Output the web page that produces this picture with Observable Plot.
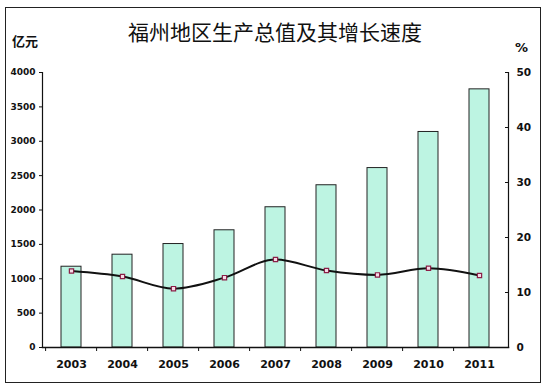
<!DOCTYPE html>
<html><head><meta charset="utf-8">
<script src="https://cdn.jsdelivr.net/npm/d3@7"></script>
<script src="https://cdn.jsdelivr.net/npm/@observablehq/plot@0.6"></script>
<style>
body{margin:0;background:#fff;}
#wrap{position:relative;width:550px;height:392px;overflow:hidden;background:#fff;}
#border{position:absolute;left:5px;top:7px;width:534px;height:374px;border:1.5px solid #222;}
#title{position:absolute;left:0;width:550px;top:16px;text-align:center;font-family:"Noto Sans CJK SC";font-size:21px;color:#111;letter-spacing:0px;}
#ulabel{position:absolute;left:12px;top:31px;font-family:"Noto Sans CJK SC";font-size:13px;font-weight:bold;color:#111;}
#plabel{position:absolute;left:515px;top:40px;font-family:"DejaVu Sans";font-size:13px;font-weight:bold;color:#111;}
#chart{position:absolute;left:0;top:0;}
</style></head>
<body>
<div id="wrap">
<div id="border"></div>
<div id="chart"></div>
<div id="title">福州地区生产总值及其增长速度</div>
<div id="ulabel">亿元</div>
<div id="plabel">%</div>
</div>
<script>
const years = ["2003","2004","2005","2006","2007","2008","2009","2010","2011"];
const gdp = [1175, 1350, 1505, 1705, 2040, 2360, 2610, 3135, 3755];
const growth = [13.9, 12.9, 10.7, 12.7, 16.0, 14.0, 13.2, 14.4, 13.1];
const leftTicks = [0,500,1000,1500,2000,2500,3000,3500,4000];
const rightTicks = [0,10,20,30,40,50];
const leftMax = 4000, rightMax = 50;
const k = leftMax / rightMax;

const data = years.map((y,i)=>({year:y, gdp:gdp[i], g:growth[i], gs:growth[i]*k}));

const chart = Plot.plot({
  width: 550, height: 392,
  marginLeft: 42, marginRight: 42, marginTop: 72, marginBottom: 45,
  x: {type:"band", domain: years, paddingInner: 0.6, paddingOuter: 0.3, align: 0.5},
  y: {domain: [0, leftMax]},
  style: {background:"transparent", color:"#111"},
  marks: [
    Plot.barY(data, {x:"year", y:"gdp", fill:"#bdf4e2", stroke:"#222", strokeWidth:1}),
    Plot.frame({anchor:"left", stroke:"#111", strokeWidth:1.2}),
    Plot.frame({anchor:"right", stroke:"#111", strokeWidth:1.2}),
    Plot.frame({anchor:"bottom", stroke:"#111", strokeWidth:1.5}),
    Plot.axisY({ticks:leftTicks, tickFormat:d=>String(d), tickSize:3, tickPadding:4, label:null, fontSize:9, fontWeight:"bold", fontFamily:"DejaVu Sans"}),
    Plot.axisY({anchor:"right", ticks:rightTicks.map(d=>d*k), tickFormat:d=>String(d/k), tickSize:0, tickPadding:8, label:null, fontSize:10.5, fontWeight:"bold", fontFamily:"DejaVu Sans"}),
    Plot.axisY({anchor:"right", ticks:rightTicks.map(d=>d*k), tickFormat:()=>"", tickSize:-4, label:null}),
    Plot.axisX({tickSize:0, tickPadding:13, label:null, fontSize:11, fontWeight:"bold", fontFamily:"DejaVu Sans"}),
    Plot.axisX({tickSize:4, tickFormat:()=>"", dx:-25.9, label:null}),
    Plot.line(data, {x:"year", y:"gs", stroke:"#111", strokeWidth:2, curve:"monotone-x"}),
    Plot.dot(data, {x:"year", y:"gs", symbol:"square", r:2.4, stroke:"#8c1f47", strokeWidth:1.2, fill:"#f3dbe6"})
  ]
});
document.getElementById("chart").appendChild(chart);
</script>
</body></html>
